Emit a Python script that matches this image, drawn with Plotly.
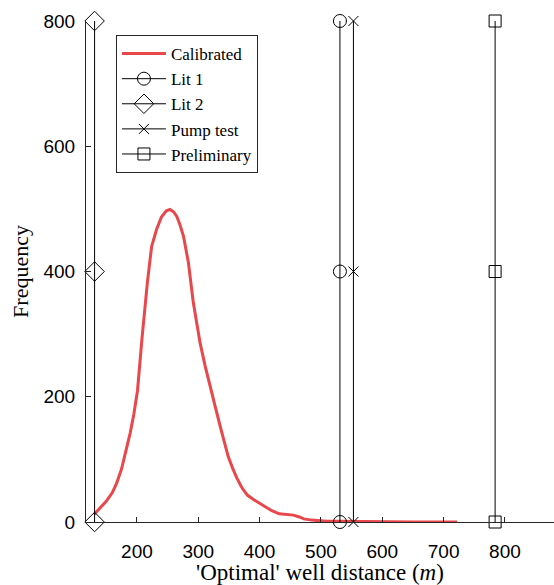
import plotly.graph_objects as go

# Calibrated distribution (KDE-like curve)
cal_x = [130, 140, 150, 160, 167, 175, 182, 189, 195, 201, 208, 217, 224, 232, 240, 248, 254,
         260, 265, 270, 276, 284, 292, 303, 311, 319, 328, 336, 343, 349, 356, 363, 371, 380,
         390, 400, 410, 420, 432, 445, 455, 465, 472, 485, 495, 510, 530, 560, 600, 650, 700, 722]
cal_y = [12, 22, 33, 47, 62, 85, 112, 142, 172, 210, 290, 382, 440, 467, 487, 497, 499,
         495, 488, 475, 456, 414, 350, 286, 250, 216, 183, 152, 126, 104, 86, 70, 55, 43,
         36, 30, 24, 18, 13, 12, 11, 8, 5, 3, 2, 1, 1, 0.5, 0, 0, 0, 0]

# Reference distances
ref_names = ["Lit 1", "Lit 2", "Pump test", "Preliminary"]
ref_x = [531, 131, 553, 784]
ref_symbols = ["circle-open", "diamond-open", "x-thin-open", "square-open"]
ref_sizes = [13, 15, 10, 12]
spike_y = [0, 400, 800]

x_ticks = [200, 300, 400, 500, 600, 700, 800]
y_ticks = [0, 200, 400, 600, 800]

fig = go.Figure()
fig.add_trace(go.Scatter(x=cal_x, y=cal_y, mode="lines", name="Calibrated",
                         line=dict(color="#e8474b", width=3), cliponaxis=False))
for name, xv, sym, sz in zip(ref_names, ref_x, ref_symbols, ref_sizes):
    fig.add_trace(go.Scatter(x=[xv] * len(spike_y), y=spike_y, mode="lines+markers", name=name,
                             line=dict(color="black", width=1),
                             marker=dict(symbol=sym, size=sz, color="black",
                                         line=dict(color="black", width=1)),
                             cliponaxis=False))

serif = "Liberation Serif"
sans = "Liberation Sans"
fig.update_layout(
    width=554, height=585,
    margin=dict(l=86, r=0, t=21, b=63),
    paper_bgcolor="white", plot_bgcolor="white",
    showlegend=True,
    legend=dict(x=0.064, y=0.972, xanchor="left", yanchor="top",
                bgcolor="white", bordercolor="#262626", borderwidth=1,
                font=dict(family=serif, size=17, color="black"),
                tracegroupgap=0, itemwidth=44),
    xaxis=dict(range=[117, 880], tickvals=x_ticks, ticks="inside", ticklen=5,
               tickcolor="#262626", showline=True, linecolor="#262626", linewidth=1,
               showgrid=False, zeroline=False, ticklabelstandoff=12,
               tickfont=dict(family=sans, size=19, color="black"),
               title=dict(text="'Optimal' well distance (<i>m</i>)", standoff=5,
                          font=dict(family=serif, size=23, color="black"))),
    yaxis=dict(range=[0, 800], tickvals=y_ticks, ticks="inside", ticklen=5,
               tickcolor="#262626", showline=True, linecolor="#262626", linewidth=1,
               showgrid=False, zeroline=False, ticklabelstandoff=6,
               tickfont=dict(family=sans, size=19, color="black"),
               title=dict(text="Frequency", standoff=8,
                          font=dict(family=serif, size=22, color="black"))),
)

fig.write_html("out.html")
